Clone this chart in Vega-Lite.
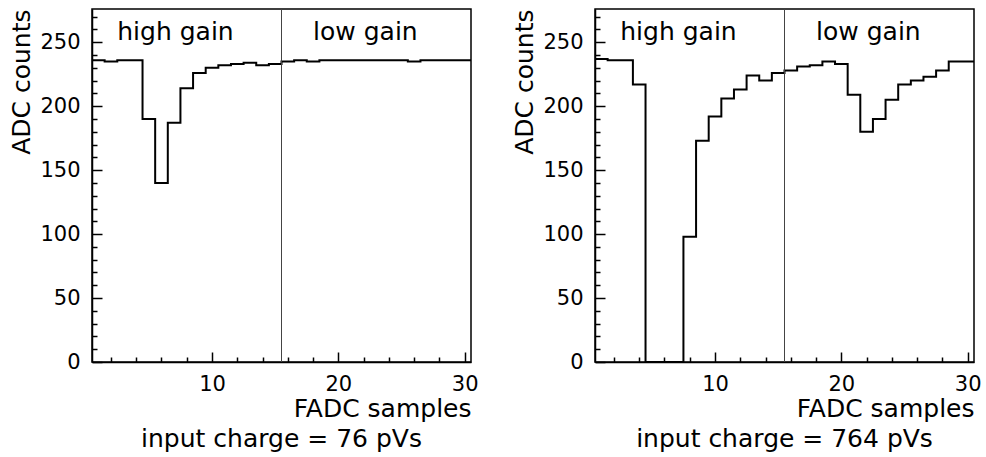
{
  "$schema": "https://vega.github.io/schema/vega-lite/v6.json",
  "padding": {"left": 9, "top": 7, "right": 0, "bottom": 0},
  "background": "white",
  "datasets": {
    "left": [
      {"bin_start": 0.5, "bin_end": 1.5, "adc": 236},
      {"bin_start": 1.5, "bin_end": 2.5, "adc": 235},
      {"bin_start": 2.5, "bin_end": 3.5, "adc": 236},
      {"bin_start": 3.5, "bin_end": 4.5, "adc": 236},
      {"bin_start": 4.5, "bin_end": 5.5, "adc": 190},
      {"bin_start": 5.5, "bin_end": 6.5, "adc": 140},
      {"bin_start": 6.5, "bin_end": 7.5, "adc": 187},
      {"bin_start": 7.5, "bin_end": 8.5, "adc": 214},
      {"bin_start": 8.5, "bin_end": 9.5, "adc": 226},
      {"bin_start": 9.5, "bin_end": 10.5, "adc": 230},
      {"bin_start": 10.5, "bin_end": 11.5, "adc": 232},
      {"bin_start": 11.5, "bin_end": 12.5, "adc": 233},
      {"bin_start": 12.5, "bin_end": 13.5, "adc": 234},
      {"bin_start": 13.5, "bin_end": 14.5, "adc": 232},
      {"bin_start": 14.5, "bin_end": 15.5, "adc": 233},
      {"bin_start": 15.5, "bin_end": 16.5, "adc": 235},
      {"bin_start": 16.5, "bin_end": 17.5, "adc": 236},
      {"bin_start": 17.5, "bin_end": 18.5, "adc": 235},
      {"bin_start": 18.5, "bin_end": 19.5, "adc": 236},
      {"bin_start": 19.5, "bin_end": 20.5, "adc": 236},
      {"bin_start": 20.5, "bin_end": 21.5, "adc": 236},
      {"bin_start": 21.5, "bin_end": 22.5, "adc": 236},
      {"bin_start": 22.5, "bin_end": 23.5, "adc": 236},
      {"bin_start": 23.5, "bin_end": 24.5, "adc": 236},
      {"bin_start": 24.5, "bin_end": 25.5, "adc": 236},
      {"bin_start": 25.5, "bin_end": 26.5, "adc": 235},
      {"bin_start": 26.5, "bin_end": 27.5, "adc": 236},
      {"bin_start": 27.5, "bin_end": 28.5, "adc": 236},
      {"bin_start": 28.5, "bin_end": 29.5, "adc": 236},
      {"bin_start": 29.5, "bin_end": 30.5, "adc": 236}
    ],
    "right": [
      {"bin_start": 0.5, "bin_end": 1.5, "adc": 237},
      {"bin_start": 1.5, "bin_end": 2.5, "adc": 236},
      {"bin_start": 2.5, "bin_end": 3.5, "adc": 236},
      {"bin_start": 3.5, "bin_end": 4.5, "adc": 217},
      {"bin_start": 4.5, "bin_end": 5.5, "adc": 0},
      {"bin_start": 5.5, "bin_end": 6.5, "adc": 0},
      {"bin_start": 6.5, "bin_end": 7.5, "adc": 0},
      {"bin_start": 7.5, "bin_end": 8.5, "adc": 98},
      {"bin_start": 8.5, "bin_end": 9.5, "adc": 173},
      {"bin_start": 9.5, "bin_end": 10.5, "adc": 192},
      {"bin_start": 10.5, "bin_end": 11.5, "adc": 206},
      {"bin_start": 11.5, "bin_end": 12.5, "adc": 213},
      {"bin_start": 12.5, "bin_end": 13.5, "adc": 224},
      {"bin_start": 13.5, "bin_end": 14.5, "adc": 220},
      {"bin_start": 14.5, "bin_end": 15.5, "adc": 226},
      {"bin_start": 15.5, "bin_end": 16.5, "adc": 228},
      {"bin_start": 16.5, "bin_end": 17.5, "adc": 231},
      {"bin_start": 17.5, "bin_end": 18.5, "adc": 232},
      {"bin_start": 18.5, "bin_end": 19.5, "adc": 235},
      {"bin_start": 19.5, "bin_end": 20.5, "adc": 233},
      {"bin_start": 20.5, "bin_end": 21.5, "adc": 209},
      {"bin_start": 21.5, "bin_end": 22.5, "adc": 180},
      {"bin_start": 22.5, "bin_end": 23.5, "adc": 190},
      {"bin_start": 23.5, "bin_end": 24.5, "adc": 205},
      {"bin_start": 24.5, "bin_end": 25.5, "adc": 217},
      {"bin_start": 25.5, "bin_end": 26.5, "adc": 220},
      {"bin_start": 26.5, "bin_end": 27.5, "adc": 223},
      {"bin_start": 27.5, "bin_end": 28.5, "adc": 228},
      {"bin_start": 28.5, "bin_end": 29.5, "adc": 235},
      {"bin_start": 29.5, "bin_end": 30.5, "adc": 235}
    ],
    "one": [{}]
  },
  "spacing": 124,
  "bounds": "flush",
  "hconcat": [
    {
      "width": 379,
      "height": 353,
      "title": {"text": "input charge = 76 pVs", "orient": "bottom", "anchor": "middle", "offset": 6},
      "layer": [
        {
          "data": {"name": "left"},
          "transform": [{"fold": ["bin_start", "bin_end"], "as": ["edge", "xpos"]}],
          "mark": {"type": "line", "color": "black", "strokeWidth": 2, "strokeJoin": "miter"},
          "encoding": {
            "x": {"field": "xpos", "type": "quantitative", "scale": {"domain": [0.5, 30.5], "nice": false, "zero": false},
                  "axis": {"orient": "bottom", "values": [10, 20, 30], "tickSize": -10, "labelPadding": 21, "labelFlush": false, "title": "FADC samples", "titleAnchor": "end", "titlePadding": 2}},
            "y": {"field": "adc", "type": "quantitative", "scale": {"domain": [0, 276], "nice": false, "zero": true},
                  "axis": {"orient": "left", "values": [0, 50, 100, 150, 200, 250], "tickSize": -10, "labelPadding": 22, "title": "ADC counts", "titleAnchor": "end", "titlePadding": 5}},
            "order": [{"field": "bin_start", "type": "quantitative", "sort": "ascending"}, {"field": "edge", "type": "nominal", "sort": "descending"}]
          }
        },
        {
          "data": {"name": "one"},
          "mark": {"type": "rule", "color": "#444444", "strokeWidth": 1},
          "encoding": {
            "x": {"datum": 15.5, "type": "quantitative",
                  "axis": {"orient": "bottom", "values": [2, 4, 6, 8, 12, 14, 16, 18, 22, 24, 26, 28], "tickSize": -5, "labels": false, "domain": false, "title": null}}
          }
        },
        {
          "data": {"name": "one"},
          "mark": {"type": "text", "align": "left", "baseline": "alphabetic", "fontSize": 25, "text": "high gain"},
          "encoding": {
            "x": {"datum": 2.5, "type": "quantitative", "axis": null},
            "y": {"datum": 252, "type": "quantitative",
                  "axis": {"orient": "left", "values": [10, 20, 30, 40, 60, 70, 80, 90, 110, 120, 130, 140, 160, 170, 180, 190, 210, 220, 230, 240, 260, 270], "tickSize": -5, "labels": false, "domain": false, "title": null}}
          }
        },
        {
          "data": {"name": "one"},
          "mark": {"type": "text", "align": "left", "baseline": "alphabetic", "fontSize": 25, "text": "low gain"},
          "encoding": {
            "x": {"datum": 18, "type": "quantitative", "axis": null},
            "y": {"datum": 252, "type": "quantitative", "axis": null}
          }
        }
      ],
      "resolve": {"axis": {"x": "independent", "y": "independent"}}
    },
    {
      "width": 379,
      "height": 353,
      "title": {"text": "input charge = 764 pVs", "orient": "bottom", "anchor": "middle", "offset": 6},
      "layer": [
        {
          "data": {"name": "right"},
          "transform": [{"fold": ["bin_start", "bin_end"], "as": ["edge", "xpos"]}],
          "mark": {"type": "line", "color": "black", "strokeWidth": 2, "strokeJoin": "miter"},
          "encoding": {
            "x": {"field": "xpos", "type": "quantitative", "scale": {"domain": [0.5, 30.5], "nice": false, "zero": false},
                  "axis": {"orient": "bottom", "values": [10, 20, 30], "tickSize": -10, "labelPadding": 21, "labelFlush": false, "title": "FADC samples", "titleAnchor": "end", "titlePadding": 2}},
            "y": {"field": "adc", "type": "quantitative", "scale": {"domain": [0, 276], "nice": false, "zero": true},
                  "axis": {"orient": "left", "values": [0, 50, 100, 150, 200, 250], "tickSize": -10, "labelPadding": 22, "title": "ADC counts", "titleAnchor": "end", "titlePadding": 5}},
            "order": [{"field": "bin_start", "type": "quantitative", "sort": "ascending"}, {"field": "edge", "type": "nominal", "sort": "descending"}]
          }
        },
        {
          "data": {"name": "one"},
          "mark": {"type": "rule", "color": "#444444", "strokeWidth": 1},
          "encoding": {
            "x": {"datum": 15.5, "type": "quantitative",
                  "axis": {"orient": "bottom", "values": [2, 4, 6, 8, 12, 14, 16, 18, 22, 24, 26, 28], "tickSize": -5, "labels": false, "domain": false, "title": null}}
          }
        },
        {
          "data": {"name": "one"},
          "mark": {"type": "text", "align": "left", "baseline": "alphabetic", "fontSize": 25, "text": "high gain"},
          "encoding": {
            "x": {"datum": 2.5, "type": "quantitative", "axis": null},
            "y": {"datum": 252, "type": "quantitative",
                  "axis": {"orient": "left", "values": [10, 20, 30, 40, 60, 70, 80, 90, 110, 120, 130, 140, 160, 170, 180, 190, 210, 220, 230, 240, 260, 270], "tickSize": -5, "labels": false, "domain": false, "title": null}}
          }
        },
        {
          "data": {"name": "one"},
          "mark": {"type": "text", "align": "left", "baseline": "alphabetic", "fontSize": 25, "text": "low gain"},
          "encoding": {
            "x": {"datum": 18, "type": "quantitative", "axis": null},
            "y": {"datum": 252, "type": "quantitative", "axis": null}
          }
        }
      ],
      "resolve": {"axis": {"x": "independent", "y": "independent"}}
    }
  ],
  "config": {
    "font": "DejaVu Sans",
    "view": {"stroke": "black", "strokeWidth": 1.5},
    "axis": {
      "grid": false,
      "domainColor": "black",
      "domainWidth": 1.5,
      "tickColor": "black",
      "tickWidth": 1.5,
      "labelColor": "black",
      "labelFontSize": 21,
      "labelFont": "DejaVu Sans",
      "titleColor": "black",
      "titleFontSize": 25,
      "titleFont": "DejaVu Sans",
      "titleFontWeight": "normal"
    },
    "title": {"fontSize": 25, "font": "DejaVu Sans", "fontWeight": "normal", "color": "black"}
  }
}
